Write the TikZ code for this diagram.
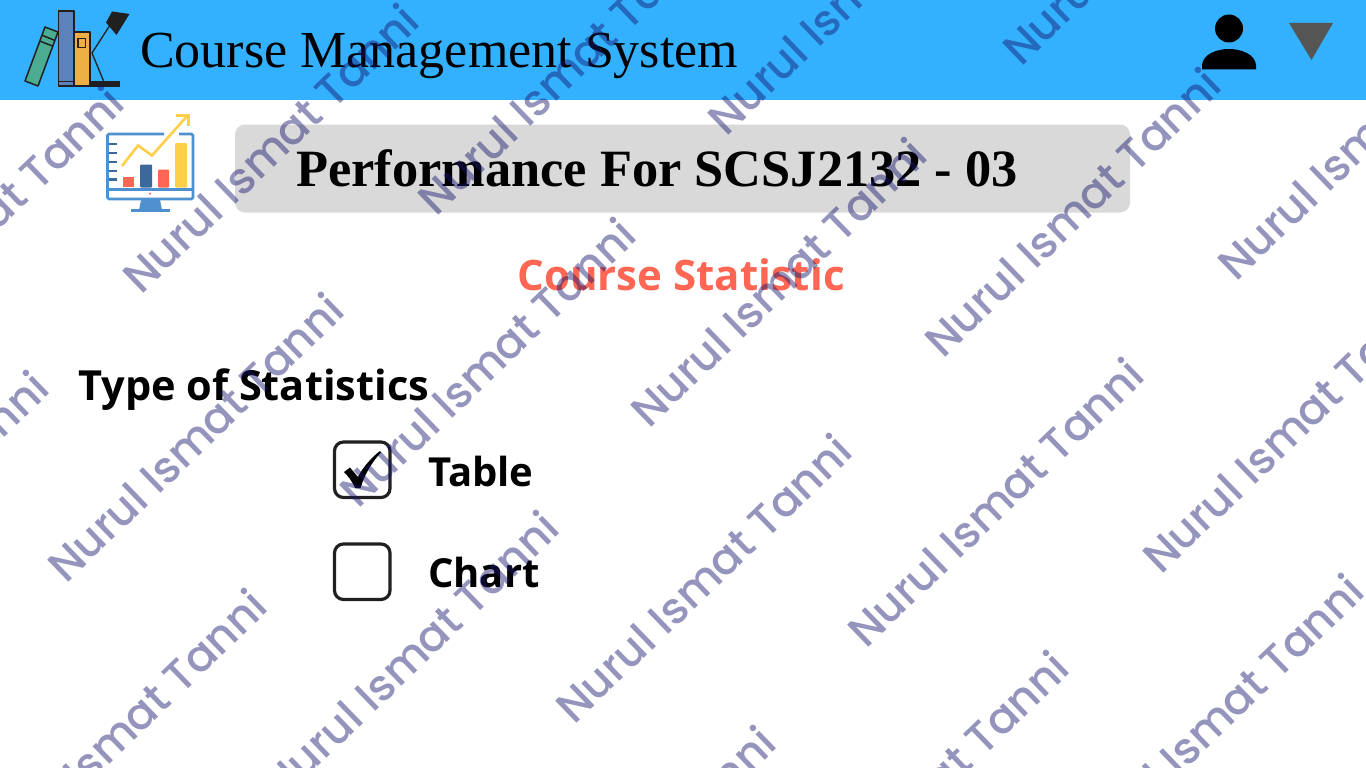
\documentclass[tikz,border=0pt]{standalone}
\usepackage{fontspec}
\setmainfont{Liberation Serif}
\newfontfamily\opensans{Open Sans}
\newfontfamily\wmfont[UprightFont=* Medium]{Poppins}
\definecolor{hdr}{RGB}{51,177,255}
\definecolor{panel}{RGB}{217,217,217}
\definecolor{coral}{RGB}{255,102,84}
\definecolor{wmark}{RGB}{22,22,110}
\definecolor{ink}{RGB}{32,32,32}
\definecolor{bookgreen}{RGB}{76,172,146}
\definecolor{bookblue}{RGB}{92,130,188}
\definecolor{bookyellow}{RGB}{236,176,68}
\definecolor{scr}{RGB}{78,144,208}
\definecolor{navyb}{RGB}{60,105,155}
\definecolor{gold}{RGB}{255,207,72}
\definecolor{tri}{RGB}{85,85,85}
\tikzset{
  wm/.style={font=\wmfont\fontsize{44}{44}\selectfont, text=wmark, text opacity=.46, rotate=44, inner sep=0pt},
  bookline/.style={draw=ink, line width=1.5pt, line join=round},
  boxcheck/.style={draw=ink, line width=3.2pt, rounded corners=9pt, fill=none},
  label/.style={font=\opensans\bfseries\fontsize{40}{40}\selectfont, text=black, anchor=base west, inner sep=0pt}
}
\begin{document}
\begin{tikzpicture}[x=1pt,y=-1pt]
\useasboundingbox (0,0) rectangle (1366,768);
\fill[white] (0,0) rectangle (1366,768);
\fill[hdr] (0,0) rectangle (1366,100);
% books and lamp
\filldraw[bookline,fill=bookgreen] (45,27) -- (58,32) -- (38,86) -- (25,81) -- cycle;
\draw[bookline] (41.5,35) -- (55,40.5) (39.5,41) -- (52.5,46);
\filldraw[bookline,fill=bookblue] (58.5,11) rectangle (74,86);
\draw[bookline] (58.5,81.5) -- (74,81.5);
\filldraw[bookline,fill=bookyellow] (74,32) rectangle (90,86);
\draw[bookline] (78,38.5) rectangle (85.5,47.5);
\fill[ink] (90,81) rectangle (120,87);
\draw[ink,line width=1.3pt] (104,82) -- (92,53) -- (112,22);
\fill[ink] (112,11.5) -- (129.5,14) -- (116.5,35) -- (106,22.5) -- cycle;
% header text
\node[inner sep=0pt,anchor=base west,font=\fontsize{52}{52}\selectfont] (title) at (140,67) {Course Management System};
% user and triangle
\fill[black] (1229,28.5) circle (14);
\fill[black] (1202,69.5) -- (1202,65) .. controls (1203,54) and (1217,49) .. (1229,49) .. controls (1241,49) and (1255,54) .. (1256,65) -- (1256,69.5) -- cycle;
\fill[tri] (1289,23) -- (1333,23) -- (1311.5,60) -- cycle;
% monitor icon
\begin{scope}
\draw[scr,line width=2.8pt,rounded corners=1.5pt] (164,134) -- (107.5,134) -- (107.5,199) -- (193,199) -- (193,134) -- (179,134);
\draw[scr,line width=3pt] (107.5,189) -- (193,189);
\fill[scr] (141,200) -- (160,200) -- (162,210) -- (139,210) -- cycle;
\fill[scr] (131,209) rectangle (170,212);
\fill[coral] (150,193.7) circle (1.2);
\foreach \yy in {144,153,162,171,179.5} \draw[navyb,line width=2.2pt] (108.5,\yy) -- (117,\yy);
\fill[coral] (123,177) rectangle (134,187);
\fill[navyb,rounded corners=1pt] (140,164.5) rectangle (152,187.5);
\fill[coral,rounded corners=1pt] (158,169.5) rectangle (169,187.5);
\fill[gold,rounded corners=1pt] (175,143) rectangle (187,187.5);
\draw[gold,line width=2.6pt] (122,166) -- (138,145.5) -- (152,155.5) -- (188,115);
\draw[gold,line width=2.6pt] (176,115.5) -- (188.5,115.5) -- (188.5,126);
\end{scope}
% panel
\fill[panel,rounded corners=10pt] (235,124.5) rectangle (1130,212.5);
\node[inner sep=0pt,anchor=base,font=\bfseries\fontsize{52.4}{52.4}\selectfont] (heading) at (657,186) {Performance For SCSJ2132 - 03};
\node[inner sep=0pt,anchor=base,text=coral,font=\opensans\bfseries\fontsize{42}{42}\selectfont] (stat) at (681,290) {Course Statistic};
\node[label,font=\opensans\bfseries\fontsize{41.5}{41.5}\selectfont] (type) at (78,400) {Type of Statistics};
\draw[boxcheck] (334.5,442) rectangle (390,497.5);
\draw[boxcheck] (334.5,544) rectangle (390,599.5);
\fill[black] (344,472) -- (350,467.5) -- (358,477) .. controls (363,467) and (372,457) .. (380,451) -- (381,452.5) .. controls (373,461) and (365,473) .. (360.5,488) -- (355,488) .. controls (352,481) and (348,476) .. (344,472) -- cycle;
\node[label] (table) at (428,486) {Table};
\node[label] (chart) at (428,587) {Chart};
% watermarks
\foreach \n/\cx/\cy in {a/-25/230,b/270/148,c/565/70,d/855/-10,e/1150/-80,
  f/-100/515,g/195/437,h/487/362,i/778/282,j/1072/212,k/1365/135,
  l/118/733,m/410/655,n/703/578,o/995/502,p/1290/428,
  q/627/870,r/920/795,s/1215/718}
  \node[wm] (wm\n) at (\cx,\cy) {Nurul Ismat Tanni};
\end{tikzpicture}
\end{document}
